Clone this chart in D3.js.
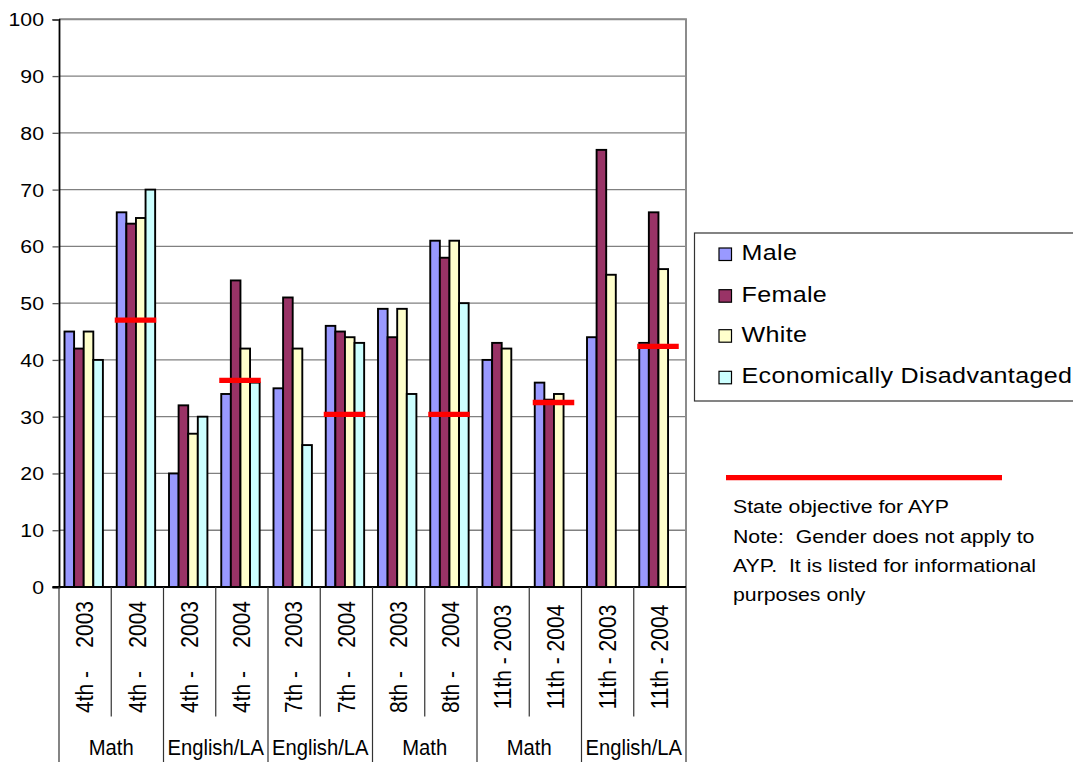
<!DOCTYPE html>
<html>
<head>
<meta charset="utf-8">
<script src="https://cdn.jsdelivr.net/npm/d3@7"></script>
<style>
  html, body { margin: 0; padding: 0; background: #ffffff; }
  svg { display: block; }
  text { font-family: "Liberation Sans", Arial, sans-serif; fill: #000; }
</style>
</head>
<body>
<svg id="chart" width="1073" height="762"></svg>
<script>
// Test results by grade / year, split by student group
const categories = ["4th -    2003", "4th -    2004", "4th -    2003", "4th -    2004",
                    "7th -    2003", "7th -    2004", "8th -    2003", "8th -    2004",
                    "11th - 2003", "11th - 2004", "11th - 2003", "11th - 2004"];
const subjects = ["Math", "English/LA", "English/LA", "Math", "Math", "English/LA"];
const seriesNames = ["Male", "Female", "White", "Economically Disadvantaged"];
const seriesColors = ["#9999ff", "#993366", "#ffffcc", "#ccffff"];
const male   = [45, 66, 20, 34, 35, 46, 49, 61, 40, 36, 44, 43];
const female = [42, 64, 32, 54, 51, 45, 44, 58, 43, 33, 77, 66];
const white  = [45, 65, 27, 42, 42, 44, 49, 61, 42, 34, 55, 56];
const econ   = [40, 70, 30, 36, 25, 43, 34, 50, null, null, null, null];
// State objective for AYP (shown on the 2004 columns)
const aypObjective = [null, 47, null, 36.4, null, 30.4, null, 30.4, null, 32.5, null, 42.4];
const yTicks = [0, 10, 20, 30, 40, 50, 60, 70, 80, 90, 100];
const noteLines = ["State objective for AYP",
                   "Note:  Gender does not apply to",
                   "AYP.  It is listed for informational",
                   "purposes only"];

const seriesValues = [male, female, white, econ];
const SX = 1.12; // horizontal glyph stretch

const svg = d3.select("#chart");
const plot = { left: 59, right: 686, top: 19.3, bottom: 587 };

const idx = d3.range(categories.length);
const x0 = d3.scaleBand().domain(idx).range([plot.left, plot.right]).padding(0);
const bw = x0.bandwidth();
const x1 = d3.scaleBand().domain(d3.range(seriesNames.length)).range([5.5, 5.5 + 38.4]).padding(0);
const y = d3.scaleLinear().domain([0, 100]).range([plot.bottom, plot.top]);

// gridlines
svg.append("g").selectAll("line").data(yTicks.filter(d => d > 0)).join("line")
  .attr("x1", plot.left).attr("x2", plot.right)
  .attr("y1", d => y(d)).attr("y2", d => y(d))
  .attr("stroke", "#808080").attr("stroke-width", 1.3);

// plot border (top / right)
svg.append("path")
  .attr("d", `M${plot.left},${y(100)}H${plot.right}V${plot.bottom}`)
  .attr("fill", "none").attr("stroke", "#8c8c8c").attr("stroke-width", 2);

// bars
const groups = svg.append("g").selectAll("g").data(idx).join("g")
  .attr("transform", i => `translate(${x0(i)},0)`);
groups.selectAll("rect")
  .data(i => seriesValues.map((s, k) => ({ k, v: s[i] })).filter(d => d.v != null))
  .join("rect")
  .attr("x", d => x1(d.k))
  .attr("width", x1.bandwidth())
  .attr("y", d => y(d.v))
  .attr("height", d => y(0) - y(d.v))
  .attr("fill", d => seriesColors[d.k])
  .attr("stroke", "#000").attr("stroke-width", 1.9);

// AYP objective markers
svg.append("g").selectAll("line").data(idx.filter(i => aypObjective[i] != null)).join("line")
  .attr("x1", i => x0(i) + 3.5).attr("x2", i => x0(i) + 45)
  .attr("y1", i => y(aypObjective[i])).attr("y2", i => y(aypObjective[i]))
  .attr("stroke", "#ff0000").attr("stroke-width", 5.3);

// y axis
const yAxis = svg.append("g").attr("transform", `translate(${plot.left},0)`)
  .call(d3.axisLeft(y).tickValues(yTicks).tickSize(6.5).tickPadding(0).tickFormat(d3.format("d")));
yAxis.select(".domain").attr("stroke", "#000").attr("stroke-width", 1.8);
yAxis.selectAll(".tick line").attr("stroke", "#555").attr("stroke-width", 1.3);
yAxis.selectAll(".tick text").remove();
yAxis.selectAll(".tick").append("text")
  .attr("transform", `translate(-15,6.5) scale(${SX},1)`)
  .attr("text-anchor", "end")
  .style("font-size", "19px")
  .text(d => d);

// x axis baseline
svg.append("line")
  .attr("x1", plot.left - 6.5).attr("x2", plot.right)
  .attr("y1", y(0)).attr("y2", y(0))
  .attr("stroke", "#000").attr("stroke-width", 1.8);

// category separators
const boundaries = d3.range(categories.length + 1).map(i => plot.left + i * bw);
svg.append("g").selectAll("line").data(boundaries).join("line")
  .attr("x1", d => d).attr("x2", d => d)
  .attr("y1", y(0))
  .attr("y2", (d, i) => (i % 2 === 0 ? 762 : 716.5))
  .attr("stroke", "#333").attr("stroke-width", 1.2);

// rotated category labels
svg.append("g").selectAll("text").data(idx).join("text")
  .attr("transform", i => `translate(${x0(i) + bw / 2 + 8.3},657) scale(${SX},1) rotate(-90)`)
  .attr("text-anchor", "middle")
  .style("font-size", "21px")
  .style("white-space", "pre")
  .text(i => categories[i]);

// subject labels
svg.append("g").selectAll("text").data(subjects).join("text")
  .attr("transform", (d, j) => `translate(${plot.left + (2 * j + 1) * bw},755) scale(0.92,1)`)
  .attr("text-anchor", "middle")
  .style("font-size", "22px")
  .text(d => d);

// legend
const legend = svg.append("g");
legend.append("rect")
  .attr("x", 694.5).attr("y", 233).attr("width", 420).attr("height", 168)
  .attr("fill", "#fff").attr("stroke", "#333").attr("stroke-width", 1.2);
const legendRows = [260, 301.7, 341.7, 383.3];
const items = legend.selectAll("g.item").data(seriesNames).join("g").attr("class", "item");
items.append("rect")
  .attr("x", 719).attr("y", (d, k) => legendRows[k] - 12)
  .attr("width", 12.5).attr("height", 12.5)
  .attr("fill", (d, k) => seriesColors[k])
  .attr("stroke", "#000").attr("stroke-width", 1.2);
items.append("text")
  .attr("transform", (d, k) => `translate(741.5,${legendRows[k]}) scale(1.14,1)`)
  .style("font-size", "22px")
  .style("letter-spacing", "0.3px")
  .text(d => d);

// objective key and note
svg.append("line")
  .attr("x1", 726).attr("x2", 1002).attr("y1", 477.7).attr("y2", 477.7)
  .attr("stroke", "#ff0000").attr("stroke-width", 5.3);
svg.append("g").selectAll("text").data(noteLines).join("text")
  .attr("transform", (d, i) => `translate(733,${513.3 + i * 29.3}) scale(${SX},1)`)
  .style("font-size", "19px")
  .style("white-space", "pre")
  .text(d => d);
</script>
</body>
</html>
